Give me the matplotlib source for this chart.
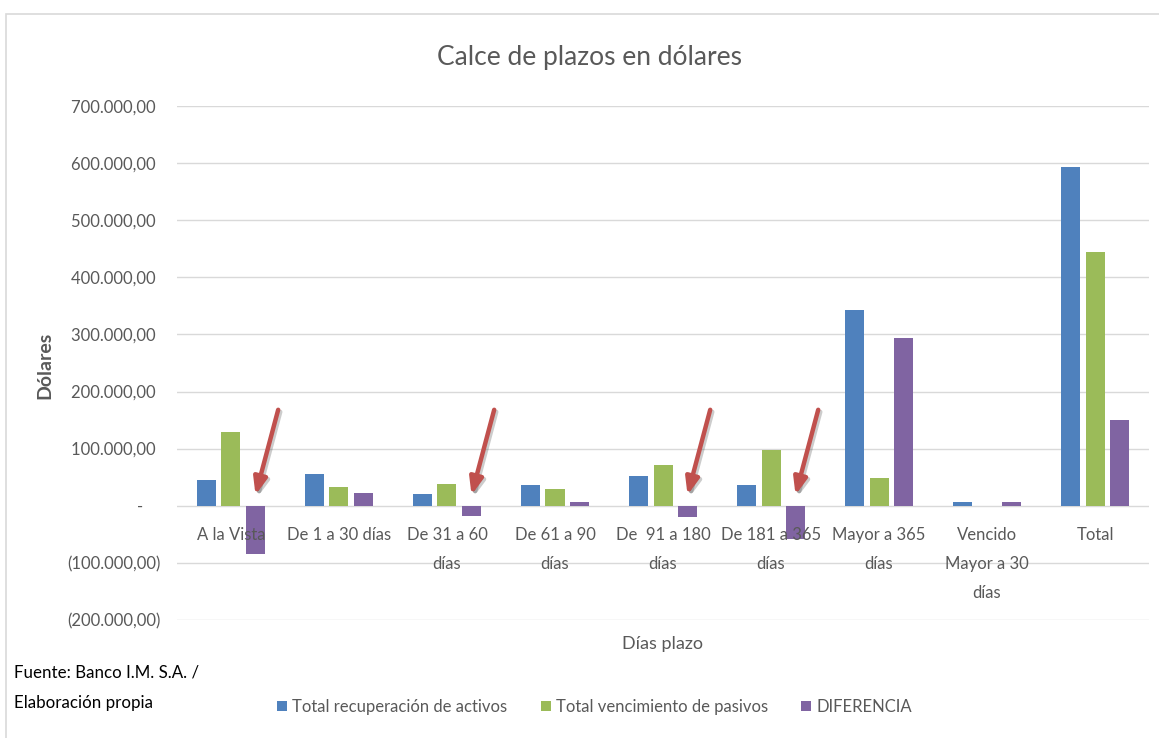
import matplotlib.pyplot as plt
import matplotlib.patheffects as pe
from matplotlib.patches import Rectangle
import numpy as np

categories = ["A la Vista", "De 1 a 30 días", "De 31 a 60\ndías", "De 61 a 90\ndías",
              "De  91 a 180\ndías", "De 181 a 365\ndías", "Mayor a 365\ndías",
              "Vencido\nMayor a 30\ndías", "Total"]
activos = [45000, 56000, 20000, 37000, 52000, 37000, 342000, 6000, 594000]
pasivos = [129000, 33000, 38000, 30000, 72000, 98000, 49000, 0, 445000]
diferencia = [-84000, 23000, -18000, 7000, -20000, -59000, 293000, 6000, 150000]
series_names = ["Total recuperación de activos", "Total vencimiento de pasivos", "DIFERENCIA"]
arrow_cats = [0, 2, 4, 5]

yticks = np.arange(-200000, 700001, 100000)


def fmt(v):
    if v == 0:
        return "-    "
    s = f"{abs(v):,.2f}".replace(",", "X").replace(".", ",").replace("X", ".")
    return f"({s})" if v < 0 else s + " "


plt.rcParams['font.family'] = ['Lato', 'DejaVu Sans']
grey = "#595959"
colors = ["#4F81BD", "#9BBB59", "#8064A2"]

fig = plt.figure(figsize=(11.59, 7.38), dpi=100)
ax = fig.add_axes([0.1527, 0.16, 0.8387, 0.6964])

x = np.arange(len(categories))
w = 0.176
step = 0.227
for k, vals in enumerate([activos, pasivos, diferencia]):
    ax.bar(x + (k - 1) * step, vals, width=w, color=colors[k], label=series_names[k], zorder=1)

ax.spines["bottom"].set_position(("data", 0))
ax.set_xlim(-0.5, len(categories) - 0.5)
ax.set_ylim(-200000, 700000)
ax.set_yticks(yticks)
ax.set_yticklabels([fmt(v) for v in yticks])
ax.set_xticks(x)
ax.set_xticklabels(categories, linespacing=2.0, va="top")
ax.tick_params(axis="both", length=0, colors=grey, labelsize=12)
ax.tick_params(axis="y", pad=12)
ax.tick_params(axis="x", pad=15)
ax.grid(axis="y", color="#D9D9D9", lw=1)
ax.set_axisbelow(True)
ax.xaxis.set_zorder(3)
for s in ax.spines.values():
    s.set_visible(False)

# red arrows pointing to negative differences
for i in arrow_cats:
    tip = (x[i] + step, 19000)
    tail = (x[i] + step + 0.21, 168000)
    ax.annotate("", xy=tip, xytext=tail,
                arrowprops=dict(arrowstyle="-|>,head_length=1.0,head_width=0.4",
                                color="#C0504D", lw=3.2, shrinkA=0, shrinkB=0,
                                path_effects=[pe.SimpleLineShadow(offset=(1.5, -1.5), alpha=0.2),
                                              pe.Normal()]),
                zorder=5)

fig.text(0.509, 0.922, "Calce de plazos en dólares", ha="center", va="center",
         fontsize=19, color=grey)
fig.text(0.039, 0.505, "Dólares", rotation=90, ha="center", va="center",
         fontsize=14, color=grey, fontweight="bold")
fig.text(0.572, 0.128, "Días plazo", ha="center", va="center", fontsize=13, color=grey)
fig.text(0.012, 0.089, "Fuente: Banco I.M. S.A. /", ha="left", va="center", fontsize=12.2, color="black")
fig.text(0.012, 0.047, "Elaboración propia", ha="left", va="center", fontsize=12.2, color="black")

leg = fig.legend(loc="center", bbox_to_anchor=(0.513, 0.042), ncol=3, frameon=False,
                 fontsize=12, handlelength=0.6, handleheight=0.6, handletextpad=0.3,
                 columnspacing=2.0)
for t in leg.get_texts():
    t.set_color(grey)

fig.patches.append(Rectangle((6 / 1159, -0.1), 1.2, 1 - 14 / 738 + 0.1, transform=fig.transFigure,
                             fill=False, edgecolor="#D9D9D9", lw=1.2))

fig.savefig("out.png", dpi=100)
